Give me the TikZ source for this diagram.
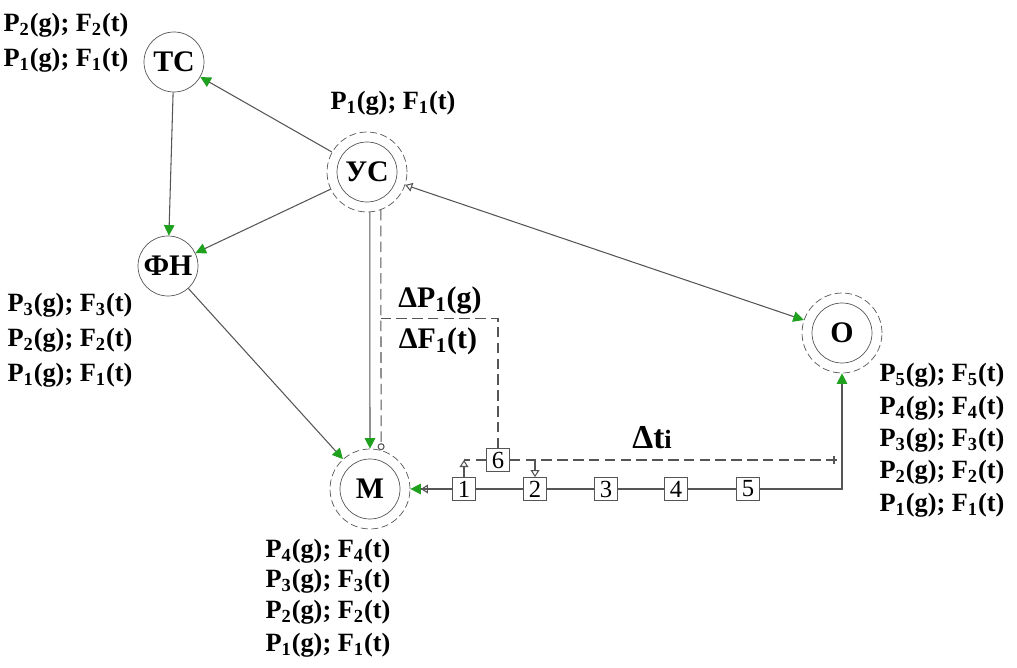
\documentclass[tikz,border=0pt]{standalone}
\usepackage{fontspec}
\setmainfont{Liberation Serif}
\usetikzlibrary{arrows.meta,calc}
\definecolor{arrg}{HTML}{1FA01F}
\definecolor{ln}{HTML}{555555}
\newcommand{\PF}[1]{P\textsubscript{#1}(g); F\textsubscript{#1}(t)}
\begin{document}
\begin{tikzpicture}[x=0.02cm,y=-0.02cm,
  lab/.style={font=\fontsize{15}{17}\selectfont\bfseries,inner sep=0pt},
  circ/.style={circle,draw=ln,minimum size=1.2cm,inner sep=0pt,font=\fontsize{17}{19}\selectfont\bfseries},
  outer/.style={circle,draw=ln,dash pattern=on 4pt off 2pt,minimum size=1.6cm,inner sep=0pt},
  box/.style={draw=ln,minimum size=0.46cm,inner sep=0pt,font=\fontsize{14}{16}\selectfont},
  conn/.style={draw=ln,line width=0.6pt},
  dconn/.style={conn,dash pattern=on 6pt off 3pt},
  gtip/.tip={Triangle[fill=arrg,color=arrg,length=6pt,width=6pt]},
  otip/.tip={Triangle[open,length=4pt,width=5pt]},
  ga/.style={conn,-gtip},
]
\useasboundingbox (0,0) rectangle (1017,668);
% nodes
\node[circ] (TC) at (174,62) {ТС};
\node[outer] (USo) at (367,172) {};
\node[circ] (US) at (367,172) {УС};
\node[circ] (FN) at (168,266) {ФН};
\node[outer] (Oo) at (842,333) {};
\node[circ] (O) at (842,333) {О};
\node[outer] (Mo) at (370,489) {};
\node[circ] (M) at (370,489) {М};
% boxes
\node[box] (b6) at (498,460) {6};
\node[box] (b1) at (464,489) {1};
\node[box] (b2) at (535,489) {2};
\node[box] (b3) at (606,489) {3};
\node[box] (b4) at (676,489) {4};
\node[box] (b5) at (748,489) {5};
% labels
\node[lab] (tc2) at (66,25) {\PF{2}};
\node[lab] (tc1) at (66,60) {\PF{1}};
\node[lab] (us1) at (393,103) {\PF{1}};
\node[lab] (fn3) at (70,305) {\PF{3}};
\node[lab] (fn2) at (70,340) {\PF{2}};
\node[lab] (fn1) at (70,375) {\PF{1}};
\node[lab] (o5) at (942,375) {\PF{5}};
\node[lab] (o4) at (942,408) {\PF{4}};
\node[lab] (o3) at (942,440) {\PF{3}};
\node[lab] (o2) at (942,472) {\PF{2}};
\node[lab] (o1) at (942,505) {\PF{1}};
\node[lab] (m4) at (328,551) {\PF{4}};
\node[lab] (m3) at (328,581) {\PF{3}};
\node[lab] (m2) at (328,612) {\PF{2}};
\node[lab] (m1) at (328,645) {\PF{1}};
\node[lab,font=\fontsize{17}{19}\selectfont\bfseries] (dp) at (440,300) {ΔP\textsubscript{1}(g)};
\node[lab,font=\fontsize{17}{19}\selectfont\bfseries] (df) at (438,341) {ΔF\textsubscript{1}(t)};
\node[lab,font=\fontsize{19}{21}\selectfont\bfseries] (dt) at (652,438) {Δt{\fontsize{15}{17}\selectfont i}};
% connectors
\draw[ga] (USo) -- (TC);
\draw[ga] (TC) -- (FN);
\draw[ga] (USo) -- (FN);
\draw[ga] (FN) -- (Mo);
\draw[conn,{otip}-gtip] (USo) -- (Oo);
\draw[ga] (USo.-86) -- (Mo.90);
\draw[dconn,-{Circle[open,length=4pt]}] (USo.-70) -- (Mo.74);
\coordinate (dj) at ($(USo.-70)!0.45!(Mo.74)$);
\draw[dconn] (b6.north) -- (b6.north |- dj) -- (dj);
% box chain
\draw[conn] (b1) -- (b2) -- (b3) -- (b4) -- (b5);
\draw[conn,-gtip] (b5.east) -- (b5.east -| Oo.south) -- (Oo.south);
\draw[conn,-{Triangle[open,length=4pt,width=5pt] Triangle[fill=arrg,color=arrg,length=6pt,width=6pt]}] (b1.west) -- (Mo.east);
% dashed feedback from 6
\coordinate (c1) at (b6.west -| b1.north);
\coordinate (c2) at (b6.east -| b2.north);
\coordinate (c3) at (b6.east -| Oo.south);
\draw[dconn] (b6.west) -- (c1);
\draw[conn,-otip] (b1.north) -- (c1);
\draw[dconn] (b6.east) -- (c3);
\draw[conn,-otip] (c2) -- (b2.north);
\draw[conn] ($(c3)+(-8,-4)$) -- ($(c3)+(-8,4)$);
\end{tikzpicture}
\end{document}
